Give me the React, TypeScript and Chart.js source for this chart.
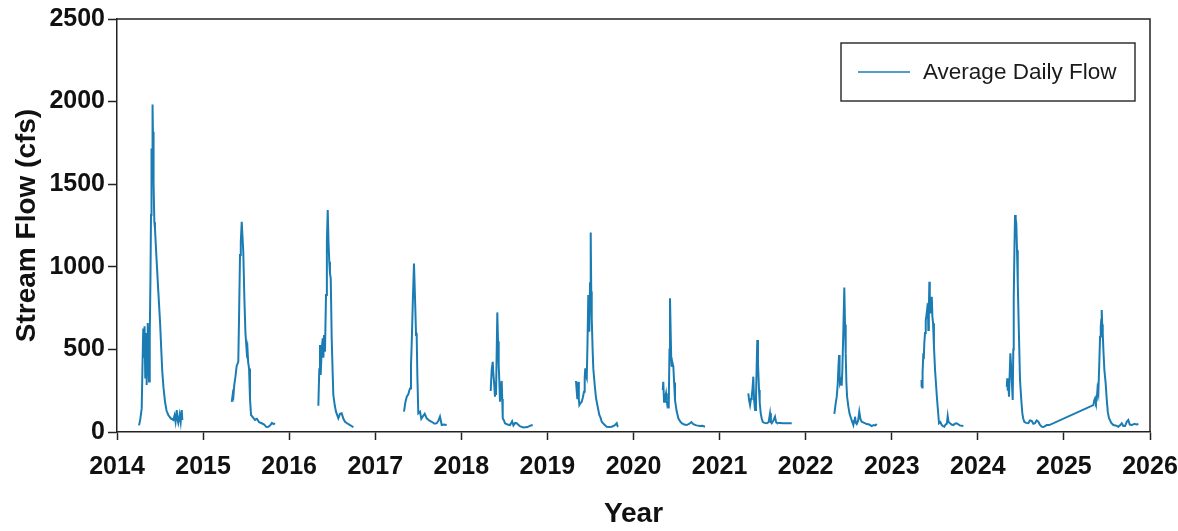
import React, { useEffect, useRef } from "react";
import { Chart, registerables } from "chart.js";

Chart.register(...registerables);

// Axis tick values
const yearTicks = [2014, 2015, 2016, 2017, 2018, 2019, 2020, 2021, 2022, 2023, 2024, 2025, 2026];
const flowTicks = [0, 500, 1000, 1500, 2000, 2500];

// Average daily stream flow (cfs) per monitoring season, as [decimal year, flow]
const flow2014: [number, number][] = [
  [2014.256, 40], [2014.270, 75], [2014.287, 143], [2014.296, 400], [2014.305, 627], [2014.313, 450],
  [2014.320, 640], [2014.328, 330], [2014.336, 600], [2014.345, 284], [2014.351, 560], [2014.357, 660],
  [2014.364, 430], [2014.372, 305], [2014.378, 500], [2014.383, 587], [2014.389, 950], [2014.395, 1313],
  [2014.401, 1716], [2014.407, 1600], [2014.411, 1780], [2014.415, 1983], [2014.419, 1750], [2014.422, 1817],
  [2014.428, 1500], [2014.434, 1270], [2014.441, 1232], [2014.451, 1130], [2014.461, 1030], [2014.480, 850],
  [2014.500, 667], [2014.514, 500], [2014.526, 365], [2014.540, 270], [2014.558, 183], [2014.575, 130],
  [2014.596, 103], [2014.625, 82], [2014.654, 73], [2014.668, 100], [2014.680, 62], [2014.694, 133],
  [2014.703, 75], [2014.712, 55], [2014.728, 105], [2014.740, 60], [2014.752, 133], [2014.759, 73],
];

const flow2015: [number, number][] = [
  [2015.333, 183], [2015.345, 230], [2015.352, 215], [2015.362, 284], [2015.375, 330], [2015.390, 400],
  [2015.409, 425], [2015.418, 700], [2015.429, 1071], [2015.438, 1150], [2015.449, 1272], [2015.458, 1180],
  [2015.467, 1091], [2015.480, 800], [2015.492, 600], [2015.507, 486], [2015.515, 510], [2015.524, 420],
  [2015.534, 385], [2015.545, 200], [2015.557, 103], [2015.570, 95], [2015.603, 73], [2015.625, 80],
  [2015.650, 60], [2015.681, 53], [2015.710, 45], [2015.735, 30], [2015.758, 32], [2015.780, 40],
  [2015.800, 55], [2015.820, 48], [2015.836, 53],
];

const flow2016: [number, number][] = [
  [2016.339, 159], [2016.350, 380], [2016.358, 526], [2016.366, 345], [2016.378, 500], [2016.390, 567],
  [2016.398, 450], [2016.405, 587], [2016.416, 486], [2016.428, 829], [2016.438, 1150], [2016.448, 1343],
  [2016.457, 1150], [2016.466, 1030], [2016.474, 960], [2016.483, 930], [2016.494, 567], [2016.504, 380],
  [2016.513, 224], [2016.530, 160], [2016.544, 123], [2016.571, 83], [2016.590, 110], [2016.610, 113],
  [2016.630, 80], [2016.649, 62], [2016.680, 50], [2016.707, 42], [2016.730, 35], [2016.745, 28],
];

const flow2017: [number, number][] = [
  [2017.334, 123], [2017.350, 180], [2017.366, 214], [2017.384, 228], [2017.395, 250], [2017.404, 264],
  [2017.415, 400], [2017.424, 546], [2017.437, 800], [2017.450, 1020], [2017.462, 809], [2017.474, 587],
  [2017.481, 600], [2017.489, 345], [2017.500, 113], [2017.520, 123], [2017.535, 80], [2017.551, 93],
  [2017.575, 110], [2017.598, 83], [2017.625, 70], [2017.656, 62], [2017.690, 50], [2017.714, 53],
  [2017.735, 70], [2017.752, 93], [2017.772, 42], [2017.800, 45], [2017.830, 42],
];

const flow2018: [number, number][] = [
  [2018.341, 248], [2018.353, 380], [2018.365, 425], [2018.372, 350], [2018.380, 304], [2018.391, 214],
  [2018.397, 260], [2018.403, 224], [2018.418, 724], [2018.426, 550], [2018.434, 405], [2018.442, 300],
  [2018.449, 183], [2018.460, 260], [2018.469, 309], [2018.475, 200], [2018.481, 83], [2018.495, 70],
  [2018.507, 53], [2018.535, 45], [2018.566, 42], [2018.590, 65], [2018.605, 40], [2018.625, 55],
  [2018.643, 53], [2018.680, 35], [2018.720, 28], [2018.770, 30], [2018.800, 38], [2018.829, 42],
];

const flow2019: [number, number][] = [
  [2019.332, 309], [2019.340, 250], [2019.347, 204], [2019.353, 280], [2019.359, 304], [2019.365, 200],
  [2019.371, 163], [2019.385, 175], [2019.399, 183], [2019.412, 210], [2019.425, 244], [2019.433, 330],
  [2019.440, 385], [2019.447, 340], [2019.457, 325], [2019.466, 550], [2019.475, 829], [2019.481, 700],
  [2019.487, 607], [2019.495, 900], [2019.503, 1208], [2019.509, 850], [2019.515, 688], [2019.525, 500],
  [2019.533, 385], [2019.550, 280], [2019.565, 204], [2019.585, 150], [2019.603, 103], [2019.615, 90],
  [2019.631, 62], [2019.660, 45], [2019.689, 32], [2019.720, 30], [2019.747, 32], [2019.780, 40],
  [2019.805, 53], [2019.815, 35], [2019.824, 32],
];

const flow2020: [number, number][] = [
  [2020.340, 254], [2020.346, 304], [2020.355, 183], [2020.365, 200], [2020.378, 234], [2020.386, 190],
  [2020.393, 163], [2020.401, 175], [2020.409, 143], [2020.418, 500], [2020.424, 809], [2020.432, 600],
  [2020.438, 450], [2020.444, 395], [2020.452, 420], [2020.463, 395], [2020.472, 300], [2020.482, 194],
  [2020.500, 130], [2020.521, 83], [2020.540, 65], [2020.560, 53], [2020.590, 45], [2020.618, 42],
  [2020.650, 50], [2020.673, 60], [2020.695, 48], [2020.730, 40], [2020.773, 36], [2020.800, 38],
  [2020.831, 32],
];

const flow2021: [number, number][] = [
  [2021.334, 234], [2021.344, 190], [2021.354, 163], [2021.365, 200], [2021.373, 214], [2021.382, 260],
  [2021.392, 335], [2021.400, 200], [2021.412, 133], [2021.423, 214], [2021.431, 400], [2021.438, 557],
  [2021.446, 420], [2021.458, 254], [2021.466, 180], [2021.478, 113], [2021.490, 80], [2021.501, 62],
  [2021.520, 55], [2021.548, 53], [2021.570, 60], [2021.586, 113], [2021.596, 60], [2021.606, 53],
  [2021.625, 70], [2021.644, 93], [2021.656, 60], [2021.664, 56], [2021.700, 55], [2021.740, 53],
  [2021.790, 53], [2021.838, 53],
];

const flow2022: [number, number][] = [
  [2022.333, 109], [2022.348, 170], [2022.361, 214], [2022.373, 295], [2022.381, 400], [2022.388, 466],
  [2022.394, 350], [2022.399, 295], [2022.411, 315], [2022.419, 280], [2022.426, 375], [2022.437, 600],
  [2022.449, 875], [2022.457, 650], [2022.465, 476], [2022.473, 300], [2022.481, 214], [2022.496, 153],
  [2022.510, 110], [2022.527, 83], [2022.545, 55], [2022.554, 42], [2022.563, 70], [2022.573, 93],
  [2022.583, 55], [2022.593, 48], [2022.610, 70], [2022.623, 123], [2022.636, 80], [2022.651, 62],
  [2022.680, 55], [2022.709, 48], [2022.740, 45], [2022.767, 36], [2022.790, 42], [2022.810, 40],
  [2022.826, 48],
];

const flow2023: [number, number][] = [
  [2023.340, 274], [2023.345, 300], [2023.348, 315], [2023.352, 280], [2023.355, 264], [2023.361, 360],
  [2023.367, 476], [2023.372, 440], [2023.378, 537], [2023.387, 600], [2023.395, 678], [2023.402, 700],
  [2023.410, 738], [2023.416, 700], [2023.421, 780], [2023.425, 617], [2023.431, 750], [2023.437, 909],
  [2023.442, 800], [2023.448, 718], [2023.456, 780], [2023.465, 819], [2023.472, 700], [2023.480, 658],
  [2023.490, 520], [2023.503, 375], [2023.526, 200], [2023.549, 53], [2023.565, 60], [2023.581, 42],
  [2023.596, 36], [2023.611, 32], [2023.625, 45], [2023.640, 50], [2023.650, 97], [2023.660, 60],
  [2023.677, 53], [2023.695, 45], [2023.715, 42], [2023.735, 50], [2023.755, 53], [2023.790, 40],
  [2023.832, 36],
];

const flow2024: [number, number][] = [
  [2024.336, 274], [2024.342, 325], [2024.348, 250], [2024.354, 300], [2024.362, 214], [2024.370, 350],
  [2024.378, 476], [2024.386, 400], [2024.394, 315], [2024.400, 250], [2024.405, 194], [2024.412, 500],
  [2024.417, 799], [2024.425, 1100], [2024.432, 1313], [2024.440, 1290], [2024.447, 1262], [2024.455, 1100],
  [2024.464, 900], [2024.477, 600], [2024.490, 315], [2024.504, 200], [2024.517, 113], [2024.528, 80],
  [2024.540, 62], [2024.560, 55], [2024.587, 53], [2024.605, 70], [2024.626, 67], [2024.645, 50],
  [2024.664, 53], [2024.683, 70], [2024.703, 62], [2024.720, 45], [2024.742, 32], [2024.760, 30],
  [2024.781, 36], [2024.800, 42], [2024.830, 42],
];

const flow2025: [number, number][] = [
  [2025.342, 163], [2025.352, 190], [2025.362, 204], [2025.372, 180], [2025.381, 194], [2025.390, 260],
  [2025.400, 234], [2025.410, 400], [2025.420, 577], [2025.428, 640], [2025.434, 680], [2025.439, 738],
  [2025.445, 650], [2025.451, 597], [2025.460, 480], [2025.470, 375], [2025.484, 300], [2025.498, 194],
  [2025.510, 120], [2025.524, 83], [2025.550, 55], [2025.574, 42], [2025.600, 40], [2025.632, 32],
  [2025.655, 42], [2025.672, 53], [2025.690, 36], [2025.710, 36], [2025.730, 62], [2025.748, 73],
  [2025.765, 45], [2025.788, 42], [2025.820, 50], [2025.845, 45], [2025.865, 48],
];

const seasons = [
  flow2014, flow2015, flow2016, flow2017, flow2018, flow2019,
  flow2020, flow2021, flow2022, flow2023, flow2024, flow2025,
];

// The 2025 record continues straight on from the 2024 season (no break in the line)
const joinedToPrevious = new Set([flow2025]);

const SERIES_LABEL = "Average Daily Flow";
const LINE_COLOR = "#1b7cb4";
const FONT = "Arial, 'Liberation Sans', sans-serif";

function buildPoints() {
  const pts: { x: number; y: number | null }[] = [];
  seasons.forEach((season, i) => {
    if (i > 0 && !joinedToPrevious.has(season)) {
      const prevEnd = seasons[i - 1][seasons[i - 1].length - 1][0];
      pts.push({ x: (prevEnd + season[0][0]) / 2, y: null });
    }
    season.forEach(([x, y]) => pts.push({ x, y }));
  });
  return pts;
}

// Draws the top/right frame and a boxed legend inside the plot area
const framePlugin = {
  id: "frameAndLegend",
  afterDraw(chart: any) {
    const { ctx, chartArea } = chart;
    const { left, top, right, bottom } = chartArea;
    ctx.save();
    ctx.strokeStyle = "#222";
    ctx.lineWidth = 1.5;
    ctx.beginPath();
    ctx.moveTo(left, top);
    ctx.lineTo(right, top);
    ctx.lineTo(right, bottom);
    ctx.stroke();

    // legend box
    const boxW = 294;
    const boxH = 58;
    const bx = right - 309;
    const by = top + 24;
    ctx.fillStyle = "#fff";
    ctx.fillRect(bx, by, boxW, boxH);
    ctx.strokeStyle = "#333";
    ctx.lineWidth = 1.5;
    ctx.strokeRect(bx, by, boxW, boxH);
    const cy = by + boxH / 2;
    ctx.strokeStyle = LINE_COLOR;
    ctx.lineWidth = 1.6;
    ctx.beginPath();
    ctx.moveTo(bx + 17, cy);
    ctx.lineTo(bx + 69, cy);
    ctx.stroke();
    ctx.fillStyle = "#1a1a1a";
    ctx.font = `22.5px ${FONT}`;
    ctx.textBaseline = "middle";
    ctx.textAlign = "left";
    ctx.fillText(chart.data.datasets[0].label, bx + 82, cy + 1);
    ctx.restore();
  },
};

export default function App() {
  const canvasRef = useRef<HTMLCanvasElement | null>(null);

  useEffect(() => {
    const canvas = canvasRef.current;
    if (!canvas) return;
    const chart = new Chart(canvas, {
      type: "line",
      data: {
        datasets: [
          {
            label: SERIES_LABEL,
            data: buildPoints() as any,
            borderColor: LINE_COLOR,
            backgroundColor: LINE_COLOR,
            borderWidth: 2,
            pointRadius: 0,
            tension: 0,
            spanGaps: false,
          },
        ],
      },
      options: {
        animation: false,
        responsive: false,
        maintainAspectRatio: false,
        layout: { padding: { top: 19, right: 28, left: 0, bottom: 0 } },
        plugins: {
          legend: { display: false },
          tooltip: { enabled: false },
        },
        scales: {
          x: {
            type: "linear",
            min: yearTicks[0],
            max: yearTicks[yearTicks.length - 1],
            afterBuildTicks: (scale: any) => {
              scale.ticks = yearTicks.map((v) => ({ value: v }));
            },
            afterFit: (scale: any) => {
              scale.height = 99;
              scale.paddingLeft = 0;
              scale.paddingRight = 0;
            },
            grid: {
              display: true,
              drawOnChartArea: false,
              drawTicks: true,
              tickLength: 8,
              tickWidth: 1.5,
              tickColor: "#222",
            },
            border: { display: true, color: "#222", width: 1.5 },
            ticks: {
              color: "#111",
              font: { family: FONT, size: 25, weight: "bold" },
              padding: 12,
              maxRotation: 0,
              autoSkip: false,
              callback: (v: any) => String(v),
            },
            title: {
              display: true,
              text: "Year",
              color: "#111",
              font: { family: FONT, size: 28, weight: "bold" },
              padding: { top: 0, bottom: 0 },
            },
          },
          y: {
            type: "linear",
            min: flowTicks[0],
            max: flowTicks[flowTicks.length - 1],
            afterBuildTicks: (scale: any) => {
              scale.ticks = flowTicks.map((v) => ({ value: v }));
            },
            afterFit: (scale: any) => {
              scale.width = 117;
              scale.paddingTop = 0;
              scale.paddingBottom = 0;
            },
            grid: {
              display: true,
              drawOnChartArea: false,
              drawTicks: true,
              tickLength: 9,
              tickWidth: 1.5,
              tickColor: "#222",
            },
            border: { display: true, color: "#222", width: 1.5 },
            ticks: {
              color: "#111",
              font: { family: FONT, size: 25, weight: "bold" },
              padding: 3,
              autoSkip: false,
              callback: (v: any) => String(v),
            },
            title: {
              display: true,
              text: "Stream Flow (cfs)",
              color: "#111",
              font: { family: FONT, size: 28, weight: "bold" },
              padding: { top: 10, bottom: 0 },
            },
          },
        },
      },
      plugins: [framePlugin],
    });
    return () => chart.destroy();
  }, []);

  return (
    <div style={{ position: "fixed", left: 0, top: 0, width: 1178, height: 531, background: "#fff" }}>
      <canvas ref={canvasRef} width={1178} height={531} style={{ display: "block" }} />
    </div>
  );
}
